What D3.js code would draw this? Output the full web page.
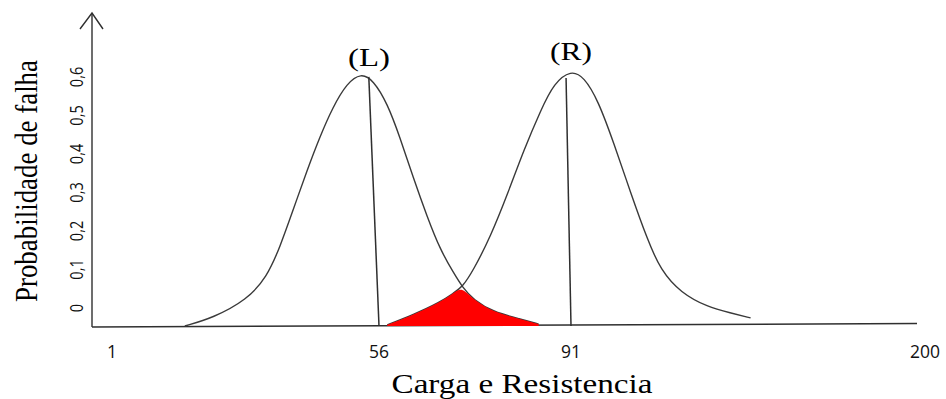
<!DOCTYPE html>
<html>
<head>
<meta charset="utf-8">
<script src="https://cdn.jsdelivr.net/npm/d3@7/dist/d3.min.js"></script>
<style>
  body { margin: 0; background: #fff; }
  svg { display: block; }
</style>
</head>
<body>
<svg id="chart" width="946" height="399"></svg>
<script>
// Axis ticks
const xTicks = [1, 56, 91, 200];
const yTicks = [0, 0.1, 0.2, 0.3, 0.4, 0.5, 0.6];
const yTickText = ["0", "0,1", "0,2", "0,3", "0,4", "0,5", "0,6"];

// Load distribution (L)
const loadX = [16.0, 21.8, 28.8, 32.9, 35.6, 38.3, 41.2, 43.8, 46.5, 49.4, 52.3, 54.8,
               57.5, 59.8, 62.2, 64.8, 67.2, 69.6, 71.2, 73.2, 76.9, 81.8, 85.1];
const loadY = [0.000, 0.021, 0.068, 0.127, 0.205, 0.301, 0.405, 0.491, 0.569, 0.631, 0.657, 0.639,
               0.579, 0.491, 0.387, 0.283, 0.197, 0.138, 0.101, 0.068, 0.036, 0.018, 0.005];

// Resistance distribution (R)
const resX = [57.5, 62.2, 67.2, 69.6, 71.2, 73.2, 76.3, 79.5, 82.4, 85.5, 87.9, 91.0,
              95.0, 99.3, 104.2, 109.4, 114.6, 118.6, 124.8, 133.1, 140.1, 146.3];
const resY = [0.003, 0.029, 0.062, 0.086, 0.101, 0.145, 0.231, 0.345, 0.457, 0.561, 0.631, 0.665,
              0.647, 0.587, 0.475, 0.345, 0.223, 0.145, 0.086, 0.049, 0.034, 0.021];

// Where the two curves cross: failure region lies under both
const crossX = 71.2;

// Mean markers (top point, base at the mean)
const meanLoadX = [53.9, 56];
const meanLoadY = [0.647, 0];
const meanResX = [90.1, 91];
const meanResY = [0.644, 0];

const svg = d3.select("#chart");

// Non-uniform horizontal axis: piecewise linear between labelled values
const x = d3.scaleLinear().domain(xTicks).range([112, 379, 571, 925]);
const y = d3.scaleLinear().domain([0, 0.6]).range([326, 95]);

const axisLeftX = 92, axisRightX = 917, axisTopY = 13;
const ink = "#2f2f2f";

const toPts = (xs, ys) => xs.map((v, i) => [v, ys[i]]);
const loadPts = toPts(loadX, loadY);
const resPts = toPts(resX, resY);

const smooth = d3.curveBasis;
const line = d3.line()
  .x(d => x(d[0])).y(d => y(d[1]))
  .curve(smooth);

// Axes
svg.append("line")
  .attr("x1", axisLeftX).attr("x2", axisRightX)
  .attr("y1", y(0) + 1).attr("y2", y(0) - 2.5)
  .attr("stroke", ink).attr("stroke-width", 1.5);
svg.append("line")
  .attr("x1", axisLeftX).attr("x2", axisLeftX)
  .attr("y1", y(0) + 1).attr("y2", axisTopY)
  .attr("stroke", ink).attr("stroke-width", 1.4);
svg.append("path")
  .attr("d", `M${axisLeftX - 12},${axisTopY + 16}L${axisLeftX},${axisTopY}L${axisLeftX + 11},${axisTopY + 16}`)
  .attr("fill", "none").attr("stroke", ink).attr("stroke-width", 1.4);

// Distribution curves
svg.append("path").datum(loadPts).attr("d", line)
  .attr("fill", "none").attr("stroke", "#3a3a3a").attr("stroke-width", 1.4);
svg.append("path").datum(resPts).attr("d", line)
  .attr("fill", "none").attr("stroke", "#3a3a3a").attr("stroke-width", 1.4);

// Overlap (failure) region
const overlap = resPts.filter(d => d[0] <= crossX)
  .concat(loadPts.filter(d => d[0] > crossX));
const area = d3.area()
  .x(d => x(d[0])).y0(y(0)).y1(d => y(d[1]))
  .curve(smooth);
svg.append("path").datum(overlap).attr("d", area)
  .attr("fill", "#ff0000").attr("stroke", "none");

// Mean lines
[[meanLoadX, meanLoadY], [meanResX, meanResY]].forEach(([xs, ys]) => {
  svg.append("line")
    .attr("x1", x(xs[0])).attr("y1", y(ys[0]))
    .attr("x2", x(xs[1])).attr("y2", y(ys[1]))
    .attr("stroke", ink).attr("stroke-width", 1.5);
});

// X tick labels
svg.append("g").selectAll("text").data(xTicks).join("text")
  .attr("x", d => x(d)).attr("y", 358)
  .attr("text-anchor", "middle")
  .attr("font-family", "'Open Sans', sans-serif")
  .attr("font-size", 17.5).attr("fill", "#111")
  .text(d => d);

// Y tick labels (rotated)
svg.append("g").selectAll("text").data(yTicks).join("text")
  .attr("transform", d => `translate(83,${y(d) - 18}) scale(1.25,1) rotate(-90)`)
  .attr("text-anchor", "middle")
  .attr("font-family", "'Open Sans', sans-serif")
  .attr("font-size", 14.5).attr("fill", "#111")
  .text((d, i) => yTickText[i]);

// Axis titles
svg.append("text")
  .attr("x", 522).attr("y", 393)
  .attr("text-anchor", "middle")
  .attr("font-family", "'Liberation Serif', 'Times New Roman', serif")
  .attr("font-size", 28)
  .attr("textLength", 261).attr("lengthAdjust", "spacingAndGlyphs")
  .attr("fill", "#000")
  .text("Carga e Resistencia");

svg.append("text")
  .attr("transform", "translate(37,181) scale(1.25,1) rotate(-90)")
  .attr("text-anchor", "middle")
  .attr("font-family", "'Liberation Serif', 'Times New Roman', serif")
  .attr("font-size", 26)
  .attr("textLength", 242).attr("lengthAdjust", "spacingAndGlyphs")
  .attr("fill", "#000")
  .text("Probabilidade de falha");

// Curve labels
const curveLabels = [
  { text: "(L)", cx: 369, base: 66 },
  { text: "(R)", cx: 571, base: 60 }
];
svg.append("g").selectAll("text").data(curveLabels).join("text")
  .attr("x", d => d.cx - 21).attr("y", d => d.base)
  .attr("font-family", "'Liberation Serif', 'Times New Roman', serif")
  .attr("font-size", 25)
  .attr("textLength", 42).attr("lengthAdjust", "spacingAndGlyphs")
  .attr("fill", "#000")
  .text(d => d.text);
</script>
</body>
</html>
